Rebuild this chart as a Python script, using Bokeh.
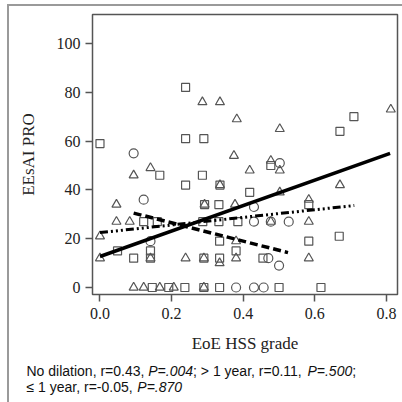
from bokeh.plotting import figure
from bokeh.layouts import column, row
from bokeh.models import Range1d, FixedTicker, PrintfTickFormatter
from bokeh.core.properties import value
from bokeh.embed import file_html
from bokeh.resources import INLINE

# ---------------- data ----------------
# No dilation (triangles)
nodil_x = [0.286, 0.335, 0.382, 0.502, 0.812, 0.094, 0.141, 0.374, 0.418, 0.477,
           0.502, 0.335, 0.670, 0.583, 0.502, 0.046, 0.046, 0.083, 0.0, 0.0,
           0.141, 0.239, 0.094, 0.122, 0.167, 0.206, 0.377, 0.292, 0.477, 0.583,
           0.583, 0.290, 0.334, 0.380, 0.380, 0.290]
nodil_y = [76, 76, 69, 65, 73, 46, 49, 54, 48, 52,
           48, 42, 42, 36, 39, 34, 27, 27, 21, 12,
           12, 12, 0, 0, 0, 0, 34, 34, 27, 27,
           12, 12, 10, 12, 19, 0]
# > 1 year (squares)
gt1_x = [0.239, 0.239, 0.290, 0.0, 0.167, 0.239, 0.286, 0.709, 0.670,
         0.477, 0.335, 0.418, 0.292, 0.332, 0.583,
         0.122, 0.160, 0.287, 0.332, 0.385,
         0.049, 0.094, 0.141, 0.141, 0.334, 0.380, 0.583, 0.668,
         0.290, 0.334, 0.455,
         0.146, 0.192, 0.237, 0.290, 0.334, 0.500, 0.617]
gt1_y = [82, 61, 61, 59, 46, 42, 46, 70, 64,
         50, 42, 39, 34, 34, 34,
         27, 27, 27, 27, 27,
         15, 12, 15, 12, 19, 15, 19, 21,
         12, 12, 12,
         0, 0, 0, 0, 0, 0, 0]
# <= 1 year (circles)
le1_x = [0.094, 0.122, 0.141, 0.502, 0.430, 0.430, 0.477, 0.527, 0.470, 0.500, 0.380, 0.430, 0.457]
le1_y = [55, 36, 19, 51, 33, 27, 27, 27, 12, 9, 0, 0, 0]

# fitted lines (end points)
fit_nodil_x = [0.0, 0.81]
fit_nodil_y = [12.7, 55.0]
fit_gt1_x = [0.0, 0.71]
fit_gt1_y = [22.5, 33.6]
fit_le1_x = [0.094, 0.525]
fit_le1_y = [30.5, 14.3]

x_ticks = [0.0, 0.2, 0.4, 0.6, 0.8]
y_ticks = [0, 20, 40, 60, 80, 100]
x_title = "EoE HSS grade"
y_title = "EEsAI PRO"
caption1 = [("No dilation, r=0.43, ", "normal"), ("P=.004", "italic"),
            ("; > 1 year, r=0.11, ", "normal"), ("P=.500", "italic"), (";", "normal")]
caption2 = [("\u2264 1 year, r=-0.05, ", "normal"), ("P=.870", "italic")]

# ---------------- layout ----------------
OX, OY = 9, 6                       # content origin inside the outer frame
W, HM, HC = 402 - OX, 360 - OY, 42   # widths / heights of the two figures
L, R, T, B = 92 - OX, 397 - OX, 14 - OY, 294 - OY
X0, X1 = -0.0209, 0.8307
Y0, Y1 = -2.87, 111.9

p = figure(width=W, height=HM, output_backend="svg", toolbar_location=None,
           x_range=Range1d(X0, X1), y_range=Range1d(Y0, Y1),
           min_border_left=L, min_border_right=W - R, min_border_top=T,
           min_border_bottom=HM - B)
p.grid.visible = False
p.outline_line_color = "#555555"
p.outline_line_width = 1.5
p.background_fill_color = "white"
p.border_fill_color = "white"

for ax in (p.xaxis[0], p.yaxis[0]):
    ax.axis_line_color = None
    ax.major_tick_in = 0
    ax.major_tick_out = 7
    ax.major_tick_line_color = "#555555"
    ax.major_tick_line_width = 1.5
    ax.minor_tick_line_color = None
    ax.major_label_text_font = "Liberation Serif"
    ax.major_label_text_font_size = "16px"
    ax.major_label_text_color = "#222222"
    ax.axis_label_text_font = "Liberation Serif"
    ax.axis_label_text_font_size = "17px"
    ax.axis_label_text_font_style = "normal"
    ax.axis_label_text_color = "#222222"

p.xaxis.ticker = FixedTicker(ticks=x_ticks)
p.yaxis.ticker = FixedTicker(ticks=y_ticks)
p.xaxis.formatter = PrintfTickFormatter(format="%.1f")
p.yaxis.formatter = PrintfTickFormatter(format="%d")
p.xaxis.axis_label = x_title
p.yaxis.axis_label = y_title
p.xaxis.major_label_standoff = 6
p.xaxis.axis_label_standoff = 12
p.yaxis.major_label_standoff = 5
p.yaxis.axis_label_standoff = 16

mcol = "#555555"
p.scatter(gt1_x, gt1_y, marker="square", size=8, fill_color=None, line_color=mcol, line_width=1.2)
p.scatter(nodil_x, nodil_y, marker="triangle", size=9, fill_color=None, line_color=mcol, line_width=1.2)
p.scatter(le1_x, le1_y, marker="circle", size=9, fill_color=None, line_color=mcol, line_width=1.2)

p.line(fit_nodil_x, fit_nodil_y, line_color="black", line_width=3.5)
p.line(fit_gt1_x, fit_gt1_y, line_color="black", line_width=3, line_dash="8 3 2 3 2 3 2 3")
p.line(fit_le1_x, fit_le1_y, line_color="black", line_width=3.5, line_dash="8 4")

# ---------------- caption figure (pixel coordinates, no axes) ----------------
c = figure(width=W, height=HC, output_backend="svg", toolbar_location=None,
           x_axis_type=None, y_axis_type=None,
           x_range=Range1d(0, W), y_range=Range1d(0, HC),
           min_border=0, min_border_left=0, min_border_right=0,
           min_border_top=0, min_border_bottom=0)
c.grid.visible = False
c.outline_line_color = None
c.background_fill_color = "white"
c.border_fill_color = "white"

AW = {'N': 722, 'o': 556, ' ': 278, 'd': 556, 'i': 222, 'l': 222, 'a': 556, 't': 278,
      'n': 556, ',': 278, 'r': 333, '=': 584, '.': 278, 'P': 667, ';': 278, '>': 584,
      'y': 500, 'e': 556, '\u2264': 549, '-': 333}
FS = 14


def tw(s):
    return sum(AW.get(ch, 556) for ch in s) / 1000.0 * FS


for segs, py in ((caption1, 370), (caption2, 386)):
    xpx = 26 - OX
    for txt, style in segs:
        c.text(x=[xpx], y=[HC - (py - 360)], text=[txt], text_font=value("Liberation Sans"),
               text_font_size=value(f"{FS}px"), text_font_style=value(style),
               text_baseline="middle", text_align="left", text_color="#111111")
        xpx += tw(txt)

layout = column(p, row(c), spacing=0,
                styles={"margin-left": "7px", "margin-top": "4px",
                        "border-left": "2px solid #9a9a9a", "border-top": "2px solid #9a9a9a"})

open("out.html", "w").write(file_html(layout, INLINE))
